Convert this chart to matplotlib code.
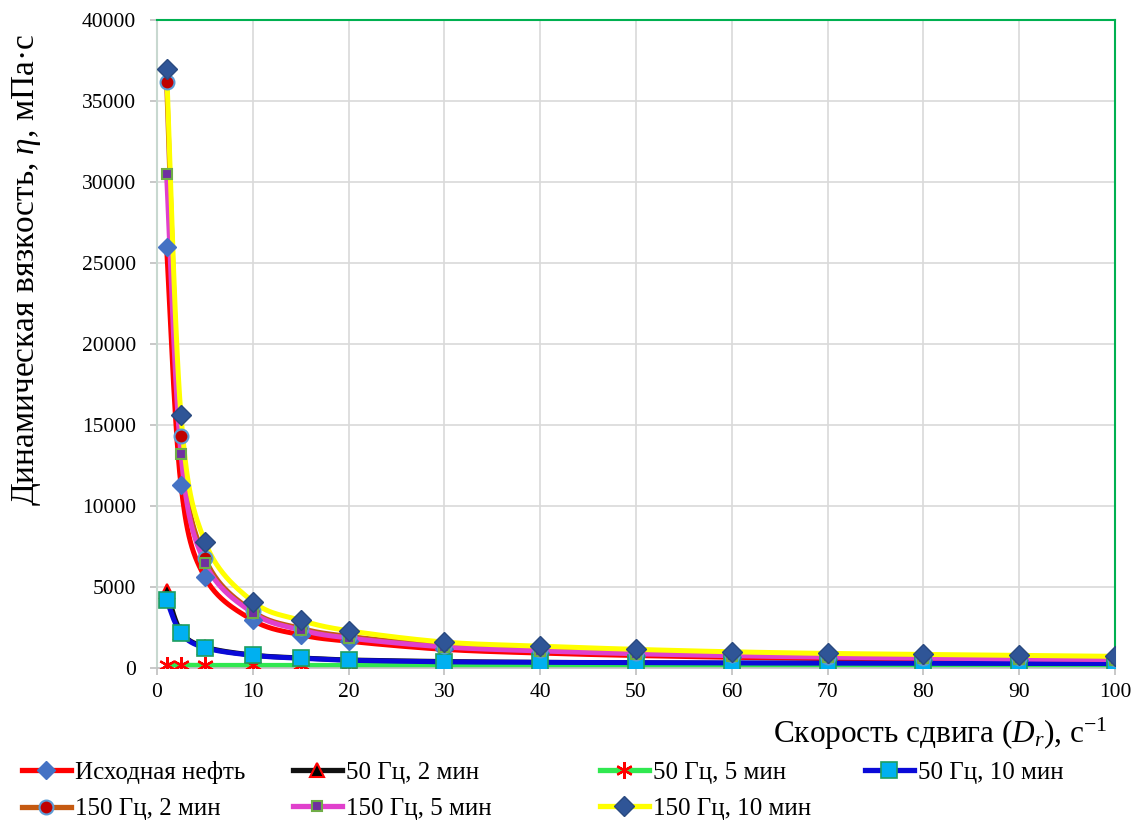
import numpy as np
import matplotlib
matplotlib.use("Agg")
import matplotlib.pyplot as plt
from matplotlib.lines import Line2D

# shear rate, 1/s
shear_rate = [1, 2.5, 5, 10, 15, 20, 30, 40, 50, 60, 70, 80, 90, 100]

# dynamic viscosity, mPa*s
visc_crude = [26000, 11300, 5600, 2950, 2050, 1650, 1150, 920, 770, 660, 580, 520, 470, 430]
visc_50_2 = [4750, 2250, 1300, 800, 620, 500, 400, 350, 320, 300, 285, 270, 260, 250]
visc_50_5 = [180, 170, 160, 160, 160, 160, 160, 160, 160, 160, 160, 160, 160, 160]
visc_50_10 = [4200, 2150, 1250, 780, 600, 480, 380, 350, 330, 310, 300, 290, 280, 270]
visc_150_2 = [36200, 14300, 6800, 3500, 2450, 1950, 1380, 1100, 920, 790, 700, 640, 590, 550]
visc_150_5 = [30500, 13200, 6500, 3400, 2350, 1850, 1300, 1050, 880, 760, 670, 610, 560, 520]
visc_150_10 = [37000, 15600, 7800, 4100, 2950, 2300, 1600, 1350, 1150, 1000, 900, 840, 780, 720]

labels = ["Исходная нефть", "50 Гц, 2 мин", "50 Гц, 5 мин", "50 Гц, 10 мин",
          "150 Гц, 2 мин", "150 Гц, 5 мин", "150 Гц, 10 мин"]

plt.rcParams["font.family"] = "Liberation Serif"
plt.rcParams["mathtext.fontset"] = "custom"
plt.rcParams["mathtext.rm"] = "Liberation Serif"
plt.rcParams["mathtext.it"] = "Liberation Serif:italic"


def smooth(x, y, n=30):
    # Catmull-Rom curve through the points, computed in screen-like units
    sx, sy = 9.58, 0.0162
    px = np.asarray(x, float) * sx
    py = np.asarray(y, float) * sy
    P = np.column_stack([px, py])
    P = np.vstack([P[0], P, P[-1]])
    out = []
    t = np.linspace(0, 1, n)[:, None]
    for i in range(1, len(P) - 2):
        p0, p1, p2, p3 = P[i - 1], P[i], P[i + 1], P[i + 2]
        c1 = p1 + (p2 - p0) / 6
        c2 = p2 - (p3 - p1) / 6
        seg = ((1 - t) ** 3) * p1 + 3 * ((1 - t) ** 2) * t * c1 + 3 * (1 - t) * t ** 2 * c2 + t ** 3 * p2
        out.append(seg if i == 1 else seg[1:])
    out = np.vstack(out)
    return out[:, 0] / sx, out[:, 1] / sy


styles = [
    dict(color="#ff0000", marker="D", mfc="#4472c4", mec="#4472c4", ms=9.5),
    dict(color="#111111", marker="^", mfc="#000000", mec="#ff0000", ms=10, mew=1.5),
    dict(color="#30e850", marker=(6, 2, 0), mfc="#ff0000", mec="#ff0000", ms=12, mew=1.6),
    dict(color="#0a0ad8", marker="s", mfc="#00b0f0", mec="#1e9e60", ms=11, mew=1.2),
    dict(color="#c55a11", marker="o", mfc="#c00000", mec="#5b9bd5", ms=10, mew=1.5),
    dict(color="#e040cc", marker="s", mfc="#7030a0", mec="#70ad47", ms=6.5, mew=1.5),
    dict(color="#ffff00", marker="D", mfc="#2f5597", mec="#2a4a80", ms=10.5),
]
series = [visc_crude, visc_50_2, visc_50_5, visc_50_10, visc_150_2, visc_150_5, visc_150_10]

fig = plt.figure(figsize=(11.37, 8.22), dpi=100)
ax = fig.add_axes([157 / 1137, 1 - 668 / 822, (1115 - 157) / 1137, (668 - 20) / 822])

handles = []
for vals, st in zip(series, styles):
    xs, ys = smooth(shear_rate, vals)
    ax.plot(xs, ys, color=st["color"], lw=3.6, solid_capstyle="round", zorder=2)
    ax.plot(shear_rate, vals, ls="none", marker=st["marker"], mfc=st["mfc"], mec=st["mec"],
            ms=st["ms"], mew=st.get("mew", 1.0), zorder=3)
    handles.append(Line2D([], [], color=st["color"], lw=3.8, marker=st["marker"], mfc=st["mfc"],
                          mec=st["mec"], ms=st["ms"], mew=st.get("mew", 1.0)))

ax.set_xlim(0, 100)
ax.set_ylim(0, 40000)
ax.set_xticks(np.arange(0, 101, 10))
ax.set_yticks(np.arange(0, 40001, 5000))
ax.grid(True, color="#d9d9d9", lw=1.2)
ax.set_axisbelow(True)
ax.tick_params(labelsize=15.5, length=5, color="#bfbfbf", width=1.2, direction="out")
ax.tick_params(axis="y", pad=10)
ax.tick_params(axis="x", pad=6)
for side in ["top", "right"]:
    ax.spines[side].set_color("#00b050")
    ax.spines[side].set_linewidth(1.5)
ax.spines["left"].set_color("#c8d8d0")
ax.spines["left"].set_linewidth(1.5)
ax.spines["bottom"].set_color("#bfbfbf")
ax.spines["bottom"].set_linewidth(1.2)

fig.text(27 / 1137, 1 - 270 / 822, "Динамическая вязкость, $\\it{η}$, мПа·с",
         rotation=90, ha="center", va="center", fontsize=24)
fig.text(1108 / 1137, 1 - 734 / 822, "Скорость сдвига ($D_r$), с$^{-1}$",
         ha="right", va="center", fontsize=22.5)

# legend laid out column by column, two rows
col_x = [22, 293, 600, 865]
cols = [[0, 4], [1, 5], [2, 6], [3]]
for cx, idx in zip(col_x, cols):
    fig.legend([handles[i] for i in idx], [labels[i] for i in idx],
               loc="upper left", bbox_to_anchor=(cx / 1137, 1 - 761 / 822),
               frameon=False, fontsize=18, handlelength=1.95, handletextpad=0.18,
               borderaxespad=0, borderpad=0, labelspacing=0.55)

plt.savefig("out.png", dpi=100)
